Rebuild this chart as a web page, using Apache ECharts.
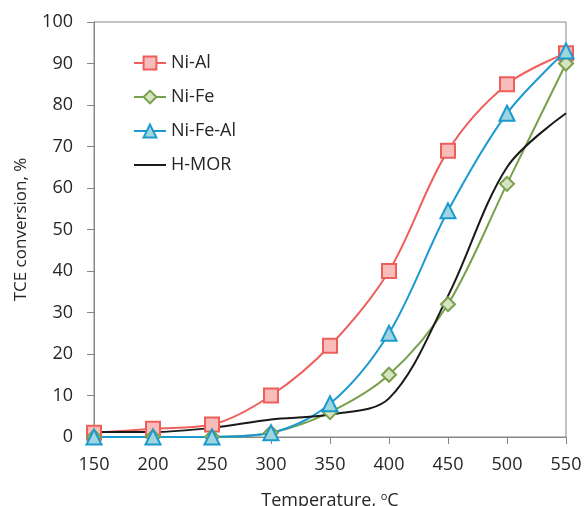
<!DOCTYPE html>
<html>
<head>
<meta charset="utf-8">
<script src="https://cdn.jsdelivr.net/npm/echarts@6/dist/echarts.min.js"></script>
<style>html,body{margin:0;padding:0;background:#fff}#c{width:587px;height:506px}</style>
</head>
<body>
<div id="c"></div>
<script>
const temperatures = [150, 200, 250, 300, 350, 400, 450, 500, 550];
const niAl   = [1, 2, 3, 10, 22, 40, 69, 85, 92.5];
const niFe   = [0, 0, 0, 1, 6, 15, 32, 61, 90];
const niFeAl = [0, 0, 0, 1, 8, 25, 54.5, 78, 93];
const hMor   = [1.2, 1.2, 2.2, 4.2, 5.4, 9.3, 34, 65, 78];
const xTicks = { min: 150, max: 550, step: 50 };
const yTicks = { min: 0, max: 100, step: 10 };

const pairs = (ys) => temperatures.map((t, i) => [t, ys[i]]);
const font = '"Open Sans", "DejaVu Sans", sans-serif';
const axisGray = '#868686';
const textColor = '#262626';
const smoothK = 0.33;

const chart = echarts.init(document.getElementById('c'), null, { renderer: 'canvas' });
chart.setOption({
  animation: false,
  backgroundColor: '#fff',
  grid: { left: 94, right: 21, top: 22, bottom: 69, show: true, borderColor: axisGray, borderWidth: 1,
          containLabel: false, outerBoundsMode: 'none' },
  legend: {
    orient: 'vertical', left: 133, top: 54, padding: 0,
    itemWidth: 32, itemHeight: 16, itemGap: 16,
    textStyle: { fontFamily: font, fontSize: 18, color: textColor, lineHeight: 16 },
    data: [
      { name: 'Ni-Al' },
      { name: 'Ni-Fe' },
      { name: 'Ni-Fe-Al' },
      { name: 'H-MOR', icon: 'path://M0,0H32V2H0Z', itemStyle: { color: '#1A1A1A' } }
    ]
  },
  xAxis: {
    type: 'value', min: xTicks.min, max: xTicks.max, interval: xTicks.step,
    name: 'Temperature, {sup|o}C', nameLocation: 'middle', nameGap: 54,
    nameTextStyle: { fontFamily: font, fontSize: 18, color: textColor,
      rich: { sup: { fontFamily: font, fontSize: 11, color: textColor, verticalAlign: 'top', padding: [0, 0, 8, 0] } } },
    axisLine: { lineStyle: { color: axisGray, width: 1 } },
    axisTick: { show: true, inside: false, length: 7, lineStyle: { color: axisGray } },
    axisLabel: { fontFamily: font, fontSize: 18, color: textColor, margin: 19 },
    splitLine: { show: false }
  },
  yAxis: {
    type: 'value', min: yTicks.min, max: yTicks.max, interval: yTicks.step,
    name: 'TCE conversion, %', nameLocation: 'middle', nameGap: 64, nameRotate: 90,
    nameTextStyle: { fontFamily: font, fontSize: 17, color: textColor },
    axisLine: { show: true, lineStyle: { color: axisGray, width: 1 } },
    axisTick: { show: true, inside: false, length: 7, lineStyle: { color: axisGray } },
    axisLabel: { fontFamily: font, fontSize: 18, color: textColor, margin: 21 },
    splitLine: { show: false }
  },
  series: [
    { name: 'Ni-Al', type: 'line', smooth: smoothK, data: pairs(niAl),
      symbol: 'rect', symbolSize: 14,
      lineStyle: { color: '#EE5F5B', width: 2 },
      itemStyle: { color: '#F8BCBB', borderColor: '#EE5F5B', borderWidth: 2 } },
    { name: 'Ni-Fe', type: 'line', smooth: smoothK, data: pairs(niFe),
      symbol: 'diamond', symbolSize: 14,
      lineStyle: { color: '#77A04B', width: 2 },
      itemStyle: { color: '#D6E4BF', borderColor: '#77A04B', borderWidth: 2 } },
    { name: 'Ni-Fe-Al', type: 'line', smooth: smoothK, data: pairs(niFeAl),
      symbol: 'triangle', symbolSize: 15,
      lineStyle: { color: '#1C9AD0', width: 2 },
      itemStyle: { color: '#9FD5DF', borderColor: '#1C9AD0', borderWidth: 2 } },
    { name: 'H-MOR', type: 'line', smooth: smoothK, data: pairs(hMor),
      symbol: 'none', showSymbol: false,
      lineStyle: { color: '#1A1A1A', width: 2 },
      itemStyle: { color: '#1A1A1A' } }
  ]
});
</script>
</body>
</html>
